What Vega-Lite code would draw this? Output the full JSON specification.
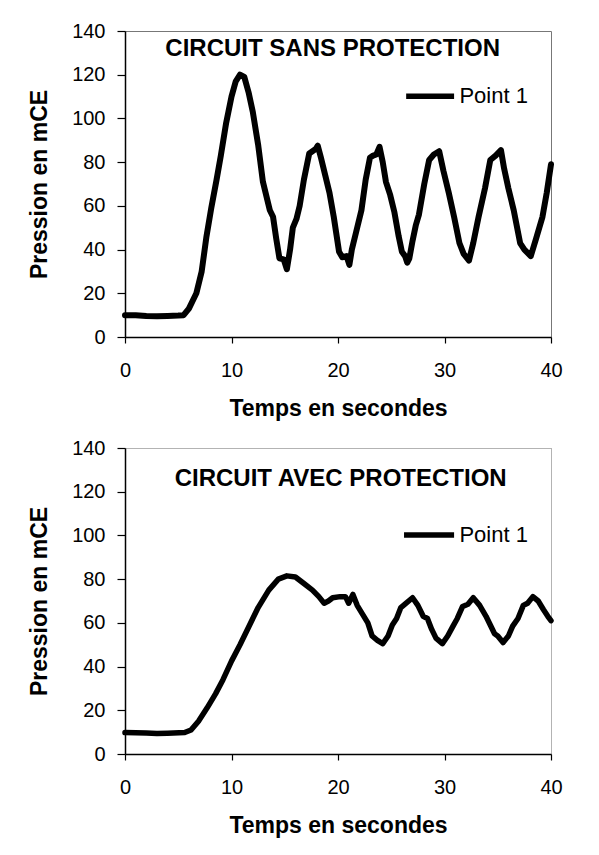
{
  "$schema": "https://vega.github.io/schema/vega-lite/v6.json",
  "padding": {"left": 28, "top": 20, "right": 5, "bottom": 5},
  "background": "white",
  "spacing": 16,
  "config": {
    "font": "Liberation Sans",
    "view": {"stroke": "#777", "strokeWidth": 1},
    "axis": {"grid": false, "domainColor": "#000", "domainWidth": 1.5, "tickColor": "#000", "tickWidth": 1.2, "labelColor": "#000", "titleColor": "#000", "labelFont": "Liberation Sans", "titleFont": "Liberation Sans", "labelFontSize": 20, "titleFontSize": 23, "titleFontWeight": "bold"},
    "axisX": {"tickSize": 6, "labelPadding": 17, "titlePadding": 17, "labelFlush": false},
    "axisY": {"tickSize": 8, "labelPadding": 12, "titlePadding": 20}
  },
  "datasets": {
    "sans": [
      {"t":0,"p":10},{"t":1,"p":10},{"t":2,"p":9.6},{"t":3,"p":9.5},{"t":4,"p":9.6},{"t":5,"p":9.8},{"t":5.5,"p":10},{"t":6,"p":13},{"t":6.7,"p":20},{"t":7.2,"p":30},{"t":7.65,"p":46},{"t":8.1,"p":59},{"t":8.6,"p":72},{"t":9.0,"p":83},{"t":9.5,"p":98},{"t":10.0,"p":110},{"t":10.4,"p":117},{"t":10.8,"p":120},{"t":11.2,"p":119},{"t":11.6,"p":112},{"t":12.0,"p":103},{"t":12.5,"p":88},{"t":12.95,"p":71},{"t":13.2,"p":66},{"t":13.6,"p":58},{"t":13.9,"p":55},{"t":14.2,"p":45},{"t":14.5,"p":36},{"t":14.9,"p":35.5},{"t":15.2,"p":31},{"t":15.5,"p":40},{"t":15.76,"p":50},{"t":16.1,"p":54},{"t":16.4,"p":60},{"t":16.8,"p":72},{"t":17.3,"p":84},{"t":17.6,"p":85},{"t":17.9,"p":86},{"t":18.1,"p":87.5},{"t":18.4,"p":82},{"t":18.8,"p":74},{"t":19.2,"p":66},{"t":19.6,"p":55},{"t":20.1,"p":39},{"t":20.4,"p":36.5},{"t":20.8,"p":37},{"t":21.07,"p":33},{"t":21.3,"p":40},{"t":21.7,"p":48},{"t":22.2,"p":58},{"t":22.6,"p":72},{"t":23.0,"p":82},{"t":23.3,"p":83},{"t":23.6,"p":83.5},{"t":23.9,"p":87},{"t":24.2,"p":80},{"t":24.5,"p":71},{"t":24.9,"p":65},{"t":25.3,"p":57},{"t":25.7,"p":46},{"t":26.0,"p":39},{"t":26.3,"p":37},{"t":26.5,"p":34},{"t":26.7,"p":36},{"t":27.0,"p":44},{"t":27.3,"p":51},{"t":27.6,"p":56},{"t":28.1,"p":70},{"t":28.56,"p":81},{"t":29.0,"p":83.5},{"t":29.5,"p":85},{"t":29.9,"p":76},{"t":30.4,"p":66},{"t":30.9,"p":55},{"t":31.4,"p":43},{"t":31.8,"p":38},{"t":32.3,"p":35},{"t":32.7,"p":43},{"t":33.2,"p":55},{"t":33.8,"p":68},{"t":34.3,"p":81},{"t":34.8,"p":83},{"t":35.3,"p":85.5},{"t":35.6,"p":77},{"t":36.0,"p":68},{"t":36.5,"p":58},{"t":37.1,"p":43},{"t":37.5,"p":40},{"t":38.1,"p":37},{"t":38.6,"p":45},{"t":39.2,"p":55},{"t":39.6,"p":66},{"t":40,"p":79}
    ],
    "avec": [
      {"t":0,"p":9.8},{"t":2,"p":9.6},{"t":3,"p":9.4},{"t":4,"p":9.5},{"t":5.6,"p":9.8},{"t":6.2,"p":11},{"t":6.9,"p":15},{"t":7.7,"p":21},{"t":8.5,"p":27.5},{"t":9.2,"p":34},{"t":10.0,"p":42.5},{"t":10.8,"p":50},{"t":11.6,"p":58},{"t":12.5,"p":67},{"t":13.5,"p":75},{"t":14.4,"p":80},{"t":15.2,"p":81.5},{"t":16.0,"p":81},{"t":16.8,"p":78},{"t":17.6,"p":75},{"t":18.2,"p":72},{"t":18.7,"p":69},{"t":19.1,"p":70},{"t":19.5,"p":71.5},{"t":20.2,"p":72},{"t":20.7,"p":72},{"t":21.0,"p":69},{"t":21.4,"p":73},{"t":21.8,"p":68},{"t":22.3,"p":64},{"t":22.8,"p":60},{"t":23.2,"p":54},{"t":23.7,"p":52},{"t":24.2,"p":50.5},{"t":24.7,"p":54},{"t":25.1,"p":59},{"t":25.5,"p":62},{"t":25.9,"p":67},{"t":26.4,"p":69},{"t":27.0,"p":71.5},{"t":27.5,"p":68},{"t":28.0,"p":63},{"t":28.4,"p":62},{"t":28.8,"p":57},{"t":29.2,"p":53},{"t":29.8,"p":50.5},{"t":30.3,"p":54},{"t":30.8,"p":58.5},{"t":31.2,"p":62},{"t":31.7,"p":67.5},{"t":32.2,"p":68.5},{"t":32.7,"p":71.5},{"t":33.3,"p":68},{"t":33.9,"p":63},{"t":34.3,"p":59},{"t":34.7,"p":55},{"t":35.0,"p":54},{"t":35.5,"p":51},{"t":36.0,"p":54},{"t":36.4,"p":58.5},{"t":36.9,"p":62},{"t":37.4,"p":68},{"t":37.8,"p":69},{"t":38.3,"p":72},{"t":38.8,"p":70},{"t":39.3,"p":66},{"t":39.7,"p":63},{"t":40,"p":61}
    ]
  },
  "vconcat": [
    {
      "width": 426, "height": 306,
      "layer": [
        {"data": {"name": "sans"}, "mark": {"type": "line", "color": "#000", "strokeWidth": 6, "strokeJoin": "round", "strokeCap": "round"},
         "encoding": {
           "x": {"field": "t", "type": "quantitative", "scale": {"domain": [0, 40], "nice": false}, "axis": {"title": "Temps en secondes", "values": [0, 10, 20, 30, 40]}},
           "y": {"field": "p", "type": "quantitative", "scale": {"domain": [0, 140], "nice": false}, "axis": {"title": "Pression en mCE", "values": [0, 20, 40, 60, 80, 100, 120, 140]}}
         }},
        {"data": {"values": [{}]}, "mark": {"type": "text", "fontSize": 24, "fontWeight": "bold", "align": "center", "baseline": "middle", "color": "#000"},
         "encoding": {"x": {"datum": 19.5}, "y": {"datum": 131.7}, "text": {"value": "CIRCUIT SANS PROTECTION"}}},
        {"data": {"values": [{}]}, "mark": {"type": "rule", "strokeWidth": 5.5, "color": "#000"},
         "encoding": {"x": {"datum": 26.4}, "x2": {"datum": 30.9}, "y": {"datum": 110.2}}},
        {"data": {"values": [{}]}, "mark": {"type": "text", "fontSize": 22, "align": "left", "baseline": "middle", "color": "#000"},
         "encoding": {"x": {"datum": 31.4}, "y": {"datum": 110.2}, "text": {"value": "Point 1"}}}
      ]
    },
    {
      "width": 426, "height": 306,
      "view": {"stroke": "#666", "strokeDash": [1, 1]},
      "layer": [
        {"data": {"name": "avec"}, "mark": {"type": "line", "color": "#000", "strokeWidth": 5.5, "strokeJoin": "round", "strokeCap": "round"},
         "encoding": {
           "x": {"field": "t", "type": "quantitative", "scale": {"domain": [0, 40], "nice": false}, "axis": {"title": "Temps en secondes", "values": [0, 10, 20, 30, 40]}},
           "y": {"field": "p", "type": "quantitative", "scale": {"domain": [0, 140], "nice": false}, "axis": {"title": "Pression en mCE", "values": [0, 20, 40, 60, 80, 100, 120, 140]}}
         }},
        {"data": {"values": [{}]}, "mark": {"type": "text", "fontSize": 24, "fontWeight": "bold", "align": "center", "baseline": "middle", "color": "#000"},
         "encoding": {"x": {"datum": 20.25}, "y": {"datum": 125.7}, "text": {"value": "CIRCUIT AVEC PROTECTION"}}},
        {"data": {"values": [{}]}, "mark": {"type": "rule", "strokeWidth": 5.5, "color": "#000"},
         "encoding": {"x": {"datum": 26.2}, "x2": {"datum": 30.9}, "y": {"datum": 100.2}}},
        {"data": {"values": [{}]}, "mark": {"type": "text", "fontSize": 22, "align": "left", "baseline": "middle", "color": "#000"},
         "encoding": {"x": {"datum": 31.4}, "y": {"datum": 100.2}, "text": {"value": "Point 1"}}}
      ]
    }
  ]
}
